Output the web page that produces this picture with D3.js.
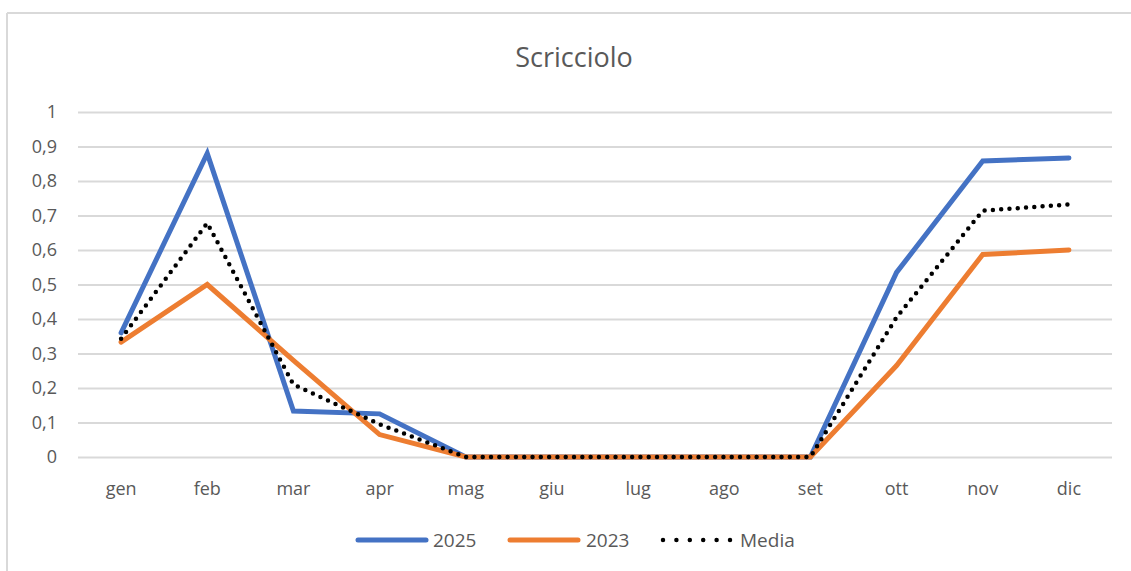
<!DOCTYPE html>
<html>
<head>
<meta charset="utf-8">
<script src="https://cdn.jsdelivr.net/npm/d3@7"></script>
<style>
  html, body { margin: 0; padding: 0; background: #fff; }
  svg { display: block; }
  text { font-family: "Open Sans", "Liberation Sans", sans-serif; fill: #595959; }
</style>
</head>
<body>
<svg id="chart" width="1131" height="571"></svg>
<script>
// Monthly sightings index for the wren
const months = ["gen", "feb", "mar", "apr", "mag", "giu", "lug", "ago", "set", "ott", "nov", "dic"];
const values2025 = [0.36, 0.88, 0.133, 0.125, 0, 0, 0, 0, 0, 0.535, 0.858, 0.867];
const values2023 = [0.333, 0.50, 0.28, 0.065, 0, 0, 0, 0, 0, 0.265, 0.587, 0.60];
const valuesMedia = [0.343, 0.678, 0.21, 0.095, 0, 0, 0, 0, 0, 0.405, 0.714, 0.732];
const yTicks = [0, 0.1, 0.2, 0.3, 0.4, 0.5, 0.6, 0.7, 0.8, 0.9, 1];
const chartTitle = "Scricciolo";

const series = [
  { name: "2025", values: values2025, color: "#4472C4", dotted: false },
  { name: "2023", values: values2023, color: "#ED7D31", dotted: false },
  { name: "Media", values: valuesMedia, color: "#000000", dotted: true }
];

const svg = d3.select("#chart");

// chart frame (left and top edges)
svg.append("line").attr("x1", 7).attr("x2", 7).attr("y1", 13).attr("y2", 571)
  .attr("stroke", "#d9d9d9").attr("stroke-width", 2);
svg.append("line").attr("x1", 7).attr("x2", 1131).attr("y1", 13).attr("y2", 13)
  .attr("stroke", "#d9d9d9").attr("stroke-width", 2);

const plot = { left: 78, right: 1112, top: 112, bottom: 457 };

const x = d3.scaleBand().domain(months).range([plot.left, plot.right]);
const y = d3.scaleLinear().domain([0, 1]).range([plot.bottom, plot.top]);
const fmt = d => d === 0 ? "0" : d === 1 ? "1" : d3.format(".1f")(d).replace(".", ",");

// title
svg.append("text").attr("x", 574).attr("y", 67).attr("text-anchor", "middle")
  .style("font-size", "27px").text(chartTitle);

// horizontal gridlines + y labels
const yAxis = d3.axisLeft(y).tickValues(yTicks).tickFormat(fmt)
  .tickSize(-(plot.right - plot.left)).tickPadding(21);
const gy = svg.append("g").attr("transform", `translate(${plot.left},0)`).call(yAxis);
gy.select(".domain").remove();
gy.selectAll(".tick line").attr("stroke", "#d9d9d9").attr("stroke-width", 2);
gy.selectAll(".tick text").style("font-size", "18px").attr("fill", "#595959")
  .style("font-family", "'Open Sans', sans-serif");

// x labels
const xAxis = d3.axisBottom(x).tickSize(0).tickPadding(25);
const gx = svg.append("g").attr("transform", `translate(0,${plot.bottom})`).call(xAxis);
gx.select(".domain").remove();
gx.selectAll(".tick text").style("font-size", "18px").attr("fill", "#595959")
  .style("font-family", "'Open Sans', sans-serif");

// lines
const line = d3.line()
  .x((d, i) => x(months[i]) + x.bandwidth() / 2)
  .y(d => y(d));

series.forEach(s => {
  const p = svg.append("path").datum(s.values)
    .attr("d", line).attr("fill", "none").attr("stroke", s.color);
  if (s.dotted) {
    p.attr("stroke-width", 4.5).attr("stroke-dasharray", "0 8.3").attr("stroke-linecap", "round");
  } else {
    p.attr("stroke-width", 5).attr("stroke-linejoin", "miter").attr("stroke-linecap", "round");
  }
});

// legend
const legendItems = [
  { x: 358, textX: 433 },
  { x: 510, textX: 586 },
  { x: 663, textX: 740 }
];
series.forEach((s, i) => {
  const li = legendItems[i];
  const ly = 540;
  const l = svg.append("line").attr("x1", li.x).attr("x2", li.x + 68)
    .attr("y1", ly).attr("y2", ly).attr("stroke", s.color).attr("stroke-linecap", "round");
  if (s.dotted) {
    l.attr("stroke-width", 4.5).attr("stroke-dasharray", "0 13.4");
  } else {
    l.attr("stroke-width", 5);
  }
  svg.append("text").attr("x", li.textX).attr("y", ly + 7).style("font-size", "19px").text(s.name);
});
</script>
</body>
</html>
